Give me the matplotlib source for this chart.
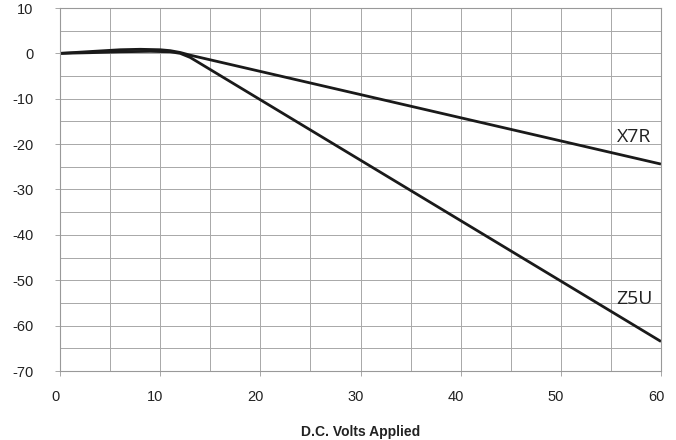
import numpy as np
import matplotlib.pyplot as plt
from matplotlib.transforms import ScaledTranslation

# значення
volts_x7r = [0, 3, 6, 8, 10, 11, 12, 13, 60]
cap_x7r = [0, 0.4, 0.8, 0.9, 0.8, 0.6, 0.2, -0.4, -24.4]

volts_z5u = [0, 3, 6, 9, 11, 12, 13, 60]
cap_z5u = [0, 0.15, 0.35, 0.45, 0.35, 0.0, -0.9, -63.5]

curve_labels = ["X7R", "Z5U"]
label_pos = [(57.3, -18.4), (57.3, -54.1)]

plt.rcParams['font.family'] = ['Liberation Sans', 'DejaVu Sans']
plt.rcParams['axes.unicode_minus'] = False

fig = plt.figure(figsize=(6.76, 4.4), dpi=100)
ax = fig.add_axes([60 / 676, 69 / 440, 601 / 676, 363 / 440])

ax.plot(volts_x7r, cap_x7r, color='#1a1a1a', lw=2.0, solid_capstyle='butt')
ax.plot(volts_z5u, cap_z5u, color='#1a1a1a', lw=2.0, solid_capstyle='butt')

for name, (x, y) in zip(curve_labels, label_pos):
    ax.text(x, y, name, family='Open Sans', fontsize=14, color='#222222',
            ha='center', va='center')

ax.set_xlim(0, 60)
ax.set_ylim(-70, 10)
ax.set_xticks(range(0, 61, 10))
ax.set_xticks(range(0, 61, 5), minor=True)
ax.set_yticks(range(-70, 11, 10))
ax.set_yticks(range(-70, 11, 5), minor=True)

ax.grid(True, which='both', color='#a8a8a8', lw=0.7)
ax.tick_params(which='major', length=3.6, color='#a8a8a8', width=0.7,
               labelsize=10.5, labelcolor='#222222')
ax.tick_params(axis='x', pad=10)
ax.tick_params(axis='y', pad=15.5)
ax.tick_params(which='minor', length=0)
for s in ax.spines.values():
    s.set_color('#999999')
    s.set_linewidth(0.8)

# підписи осі X трохи зсунуті ліворуч
shift = ScaledTranslation(-5 / 100, 0, fig.dpi_scale_trans)
for lbl in ax.get_xticklabels():
    lbl.set_transform(lbl.get_transform() + shift)

ax.set_xlabel("D.C. Volts Applied", fontsize=10, fontweight='bold',
              color='#222222', labelpad=15)

plt.savefig('out.png', dpi=100)
